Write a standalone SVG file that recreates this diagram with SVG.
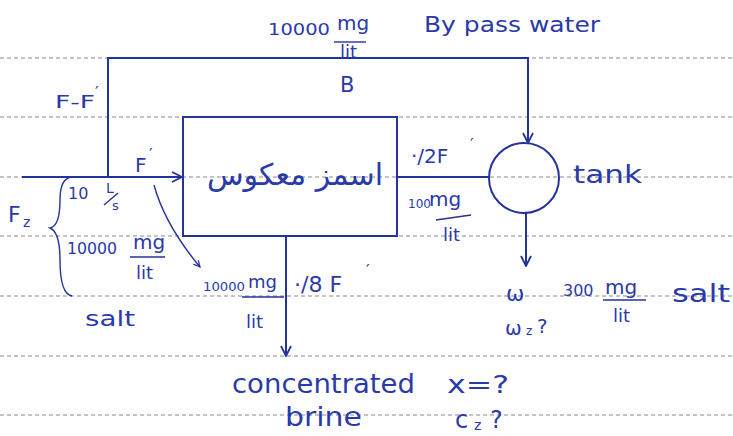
<svg xmlns="http://www.w3.org/2000/svg" width="733" height="436" viewBox="0 0 733 436">
<defs>
<marker id="arr" viewBox="0 0 12 12" refX="11" refY="6" markerWidth="12" markerHeight="12" markerUnits="userSpaceOnUse" orient="auto">
<path d="M1,1 L11,6 L1,11" fill="none" stroke="#23339a" stroke-width="1.8"/>
</marker>
<marker id="arrs" viewBox="0 0 10 10" refX="9" refY="5" markerWidth="8" markerHeight="8" markerUnits="userSpaceOnUse" orient="auto">
<path d="M1,1 L9,5 L1,9" fill="none" stroke="#23339a" stroke-width="1.5"/>
</marker>
</defs>
<style>
.rule{stroke:#8a8a8a;stroke-width:1.2;stroke-dasharray:4 3;fill:none}
.ln{stroke:#23339a;stroke-width:2;fill:none}
.thin{stroke:#23339a;stroke-width:1.4;fill:none}
text{font-family:"DejaVu Sans","Liberation Sans",sans-serif;fill:#2a3aa8}
</style>
<rect width="733" height="436" fill="#ffffff"/>
<g id="ruled-lines">
<line class="rule" x1="0" y1="58" x2="733" y2="58"/>
<line class="rule" x1="0" y1="117" x2="733" y2="117"/>
<line class="rule" x1="0" y1="177" x2="733" y2="177"/>
<line class="rule" x1="0" y1="236" x2="733" y2="236"/>
<line class="rule" x1="0" y1="296" x2="733" y2="296"/>
<line class="rule" x1="0" y1="356" x2="733" y2="356"/>
<line class="rule" x1="0" y1="415" x2="733" y2="415"/>
</g>
<g id="connectors">
<path class="ln" d="M22,177 L182,177" marker-end="url(#arr)"/>
<path class="ln" d="M108,177 L108,58 L528,58 L528,143" marker-end="url(#arr)"/>
<path class="ln" d="M397,177 L489,177"/>
<path class="ln" d="M526,213 L526,266" marker-end="url(#arr)"/>
<path class="ln" d="M286,236 L286,356" marker-end="url(#arr)"/>
<path class="thin" d="M154,185 Q165,225 200,267" marker-end="url(#arrs)"/>
<path class="thin" d="M72,177 Q60,178 60,200 Q60,226 50,228 Q60,232 60,260 Q60,294 72,296"/>
</g>
<g id="ro-unit">
<rect x="183" y="117" width="214" height="119" class="ln"/>
<text x="295" y="185" font-size="30" text-anchor="middle" direction="rtl">اسمز معکوس</text>
</g>
<g id="tank">
<circle cx="524" cy="178" r="35" class="ln"/>
<text x="573" y="183" font-size="24" textLength="69" lengthAdjust="spacingAndGlyphs">tank</text>
</g>
<g id="bypass-labels">
<text x="268" y="35" font-size="15" textLength="62" lengthAdjust="spacingAndGlyphs">10000</text>
<text x="337" y="30" font-size="20">mg</text>
<line class="thin" x1="334" y1="42" x2="366" y2="42"/>
<text x="340" y="58" font-size="18">lit</text>
<text x="340" y="92" font-size="21">B</text>
<text x="424" y="32" font-size="22" textLength="176" lengthAdjust="spacingAndGlyphs">By pass water</text>
<text x="55" y="108" font-size="18" textLength="40" lengthAdjust="spacingAndGlyphs">F-F</text>
<text x="95" y="98" font-size="16">′</text>
</g>
<g id="feed-labels">
<text x="135" y="172" font-size="20">F</text>
<text x="149" y="160" font-size="16">′</text>
<text x="68" y="199" font-size="16">10</text>
<text x="106" y="193" font-size="14">L</text>
<line class="thin" x1="104" y1="205" x2="118" y2="193"/>
<text x="112" y="210" font-size="13">s</text>
<text x="8" y="222" font-size="22">F</text>
<text x="23" y="227" font-size="14">z</text>
<text x="67" y="254" font-size="15" textLength="50" lengthAdjust="spacingAndGlyphs">10000</text>
<text x="133" y="249" font-size="20">mg</text>
<line class="thin" x1="130" y1="257" x2="165" y2="257"/>
<text x="136" y="279" font-size="18">lit</text>
<text x="85" y="326" font-size="22" textLength="50" lengthAdjust="spacingAndGlyphs">salt</text>
</g>
<g id="brine-labels">
<text x="203" y="291" font-size="13" textLength="42" lengthAdjust="spacingAndGlyphs">10000</text>
<text x="248" y="288" font-size="18">mg</text>
<line class="thin" x1="242" y1="297" x2="284" y2="297"/>
<text x="246" y="328" font-size="18">lit</text>
<text x="294" y="292" font-size="22">·/8 F</text>
<text x="366" y="276" font-size="16">′</text>
<text x="232" y="393" font-size="26" textLength="183" lengthAdjust="spacingAndGlyphs">concentrated</text>
<text x="285" y="426" font-size="26" textLength="77" lengthAdjust="spacingAndGlyphs">brine</text>
<text x="447" y="393" font-size="24" textLength="62" lengthAdjust="spacingAndGlyphs">x=?</text>
<text x="455" y="428" font-size="24">c</text>
<text x="474" y="430" font-size="14">z</text>
<text x="490" y="428" font-size="24">?</text>
</g>
<g id="permeate-labels">
<text x="411" y="163" font-size="20">·/2F</text>
<text x="470" y="150" font-size="16">′</text>
<text x="408" y="208" font-size="12">100</text>
<text x="429" y="206" font-size="20">mg</text>
<line class="thin" x1="436" y1="220" x2="471" y2="215"/>
<text x="443" y="241" font-size="18">lit</text>
</g>
<g id="product-labels">
<text x="506" y="301" font-size="22">ω</text>
<text x="563" y="296" font-size="16">300</text>
<text x="605" y="294" font-size="20">mg</text>
<line class="thin" x1="603" y1="300" x2="646" y2="300"/>
<text x="613" y="322" font-size="18">lit</text>
<text x="672" y="302" font-size="24" textLength="58" lengthAdjust="spacingAndGlyphs">salt</text>
<text x="505" y="335" font-size="20">ω</text>
<text x="526" y="335" font-size="12">z</text>
<text x="537" y="333" font-size="20">?</text>
</g>
</svg>
